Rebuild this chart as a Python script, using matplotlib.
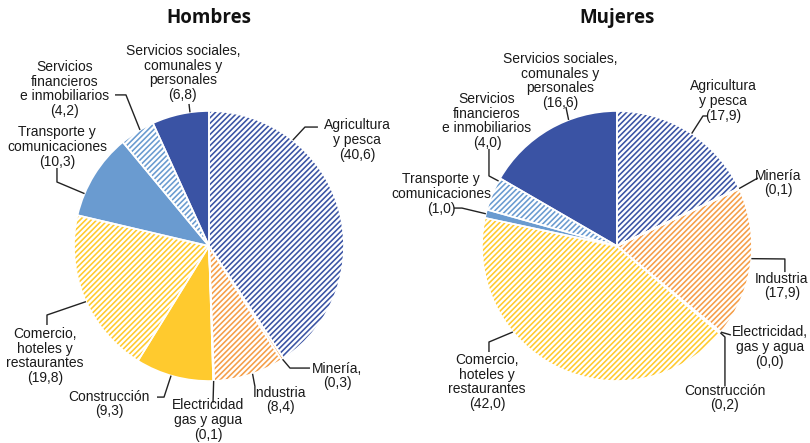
import matplotlib
matplotlib.use("Agg")
import matplotlib.pyplot as plt
import numpy as np

# ---------------- data ----------------
sectors = ["Agricultura y pesca", "Minería", "Industria", "Electricidad, gas y agua",
           "Construcción", "Comercio, hoteles y restaurantes", "Transporte y comunicaciones",
           "Servicios financieros e inmobiliarios", "Servicios sociales, comunales y personales"]
hombres = [40.6, 0.3, 8.4, 0.1, 9.3, 19.8, 10.3, 4.2, 6.8]
mujeres = [17.9, 0.1, 17.9, 0.0, 0.2, 42.0, 1.0, 4.0, 16.6]

names_hombres = ["Agricultura\ny pesca", "Minería,", "Industria", "Electricidad\ngas y agua",
                 "Construcción", "Comercio,\nhoteles y\nrestaurantes", "Transporte y\ncomunicaciones",
                 "Servicios\nfinancieros\ne inmobiliarios", "Servicios sociales,\ncomunales y\npersonales"]
names_mujeres = ["Agricultura\ny pesca", "Minería", "Industria", "Electricidad,\ngas y agua",
                 "Construcción", "Comercio,\nhoteles y\nrestaurantes", "Transporte y\ncomunicaciones",
                 "Servicios\nfinancieros\ne inmobiliarios", "Servicios sociales,\ncomunales y\npersonales"]
titles = ["Hombres", "Mujeres"]

# ---------------- styles ----------------
DARK_BLUE = "#3A53A4"
LIGHT_BLUE = "#6A9BD0"
YELLOW = "#FFCA2E"
ORANGE = "#F59E48"
GREY = "#D8D8D8"
colors = [DARK_BLUE, ORANGE, ORANGE, GREY, YELLOW, YELLOW, LIGHT_BLUE, LIGHT_BLUE, DARK_BLUE]
hatches = ["//////", "", "//////", "", "", "//////", "", "//////", ""]

# ---------------- layout (data units, pie radius = 1) ----------------
layout = {
    "Hombres": dict(
        xlim=(-1.548, 1.452),
        text=[(1.096, 0.785), (0.948, -0.963), (0.526, -1.141), (-0.007, -1.289), (-0.741, -1.170),
              (-1.215, -0.815), (-1.126, 0.733), (-1.067, 1.163), (-0.193, 1.281)],
        frac=[0.262, 0.5, 0.45, 0.5, 0.54, 0.475, 0.26, 0.59, 0.67],
        path=[[(0.711, 0.881), (0.807, 0.881)], [(0.60, -0.904), (0.748, -0.904)], [(0.341, -1.044)],
              [(0.03, -1.16)], [(-0.333, -1.119), (-0.385, -1.119)], [(-1.2, -0.511), (-1.2, -0.585)],
              [(-1.126, 0.474), (-1.126, 0.578)], [(-0.615, 1.119), (-0.696, 1.119)], [(-0.148, 1.052)]],
    ),
    "Mujeres": dict(
        xlim=(-1.570, 1.430),
        text=[(0.785, 1.074), (1.193, 0.467), (1.222, -0.296), (1.133, -0.748), (0.80, -1.126),
              (-0.963, -1.007), (-1.304, 0.385), (-0.963, 0.926), (-0.422, 1.222)],
        frac=[0.52, 0.5, 0.47, 0.5, 0.5, 0.66, 0.5, 0.91, 0.65],
        path=[[(0.637, 0.963), (0.667, 0.963)], [(1.044, 0.504)], [(1.244, -0.096), (1.244, -0.193)],
              [(0.844, -0.659)], [(0.80, -0.674), (0.80, -1.04)], [(-0.948, -0.711), (-0.948, -0.785)],
              [(-1.148, 0.281), (-1.207, 0.281)], [(-0.948, 0.519), (-0.948, 0.719)], [(-0.378, 1.03)]],
    ),
}
YLIM = (-1.459, 1.822)

plt.rcParams["font.family"] = ["Liberation Sans", "DejaVu Sans"]
plt.rcParams["hatch.linewidth"] = 1.15

fig = plt.figure(figsize=(8.1, 4.43), dpi=100)
TEXT_COLOR = "#1a1a1a"


def fmt(v):
    return "({:.1f})".format(v).replace(".", ",")


for i, (title, values, names) in enumerate(zip(titles, [hombres, mujeres], [names_hombres, names_mujeres])):
    ax = fig.add_axes([0.5 * i, 0, 0.5, 1])
    lay = layout[title]
    wedges, _ = ax.pie(values, startangle=90, counterclock=False, radius=1,
                       colors=colors, wedgeprops=dict(linewidth=0))
    for w, c, h in zip(wedges, colors, hatches):
        if h:
            w.set_facecolor("white")
            w.set_edgecolor(c)
            w.set_hatch(h)
            w.set_linewidth(0)
        else:
            w.set_facecolor(c)
            w.set_edgecolor(c)
            w.set_linewidth(0)
    # white separators
    ax.pie(values, startangle=90, counterclock=False, radius=1,
           colors=["none"] * len(values), wedgeprops=dict(linewidth=1.2, edgecolor="white"))

    for w, name, v, txy, fr, pth in zip(wedges, names, values, lay["text"], lay["frac"], lay["path"]):
        ang = np.deg2rad(w.theta2 - fr * (w.theta2 - w.theta1))
        pts = [(np.cos(ang), np.sin(ang))] + pth
        xs, ys = zip(*pts)
        ax.plot(xs, ys, color="#222222", lw=1.0, zorder=5, solid_capstyle="butt")
        ax.text(txy[0], txy[1], name + "\n" + fmt(v), ha="center", va="center",
                multialignment="center", fontsize=10, linespacing=1.05, color=TEXT_COLOR, zorder=6)

    ax.text(0, 1.69, title, ha="center", va="center", fontsize=13.5, fontweight="bold",
            family=["Open Sans", "DejaVu Sans"], color="#111111")
    ax.set_xlim(*lay["xlim"])
    ax.set_ylim(*YLIM)
    ax.set_aspect("auto")
    ax.axis("off")

fig.savefig("out.png", dpi=100)
